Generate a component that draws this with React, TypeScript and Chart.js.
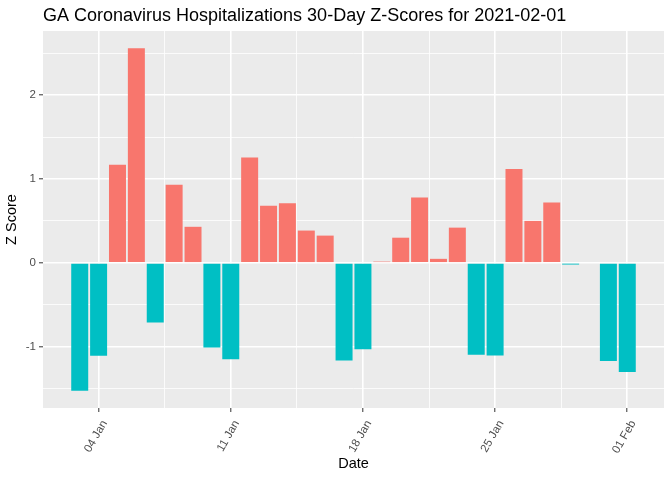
import React, { useEffect, useRef } from "react";
import { Chart, registerables } from "chart.js";

Chart.register(...registerables);

const dates: string[] = [
  "2021-01-03", "2021-01-04", "2021-01-05", "2021-01-06", "2021-01-07",
  "2021-01-08", "2021-01-09", "2021-01-10", "2021-01-11", "2021-01-12",
  "2021-01-13", "2021-01-14", "2021-01-15", "2021-01-16", "2021-01-17",
  "2021-01-18", "2021-01-19", "2021-01-20", "2021-01-21", "2021-01-22",
  "2021-01-23", "2021-01-24", "2021-01-25", "2021-01-26", "2021-01-27",
  "2021-01-28", "2021-01-29", "2021-01-30", "2021-01-31", "2021-02-01",
];

const zScores: (number | null)[] = [
  -1.526, -1.107, 1.17, 2.56, -0.71,
  0.93, 0.43, -1.01, -1.15, 1.257,
  0.68, 0.71, 0.385, 0.325, -1.165,
  -1.03, 0.015, 0.3, 0.78, 0.048,
  0.42, -1.095, -1.105, 1.12, 0.5,
  0.72, -0.02, null, -1.17, -1.3,
];

const xTickDates: string[] = ["2021-01-04", "2021-01-11", "2021-01-18", "2021-01-25", "2021-02-01"];
const xTickLabels: string[] = ["04 Jan", "11 Jan", "18 Jan", "25 Jan", "01 Feb"];
const yMajorTicks: number[] = [-1, 0, 1, 2];
const yMinorTicks: number[] = [-1.5, -0.5, 0.5, 1.5, 2.5];

const TITLE = "GA Coronavirus Hospitalizations 30-Day Z-Scores for 2021-02-01";
const X_TITLE = "Date";
const Y_TITLE = "Z Score";

const POS_COLOR = "#F8766D";
const NEG_COLOR = "#00BFC4";
const FONT = "'Liberation Sans', Arial, sans-serif";

export default function App() {
  const ref = useRef<HTMLCanvasElement | null>(null);

  useEffect(() => {
    if (!ref.current) return;

    const xMajor = xTickDates.map((d) => dates.indexOf(d));
    const xMinor = xMajor.slice(0, -1).map((v) => v + 3.5);
    const xMajorSet = new Set(xMajor);
    const yMajorSet = new Set(yMajorTicks);

    const barWidth = 0.9;
    const nums = zScores.filter((v) => v !== null) as number[];
    const dMin = Math.min(...nums);
    const dMax = Math.max(...nums);
    const yPad = (dMax - dMin) * 0.05;
    const xLo = -barWidth / 2;
    const xHi = dates.length - 1 + barWidth / 2;
    const xPad = (xHi - xLo) * 0.05;

    const points = zScores.map((v, i) => ({ x: i, y: v }));

    const bgPlugin = {
      id: "panelBg",
      beforeDraw(chart: any) {
        const { ctx, chartArea } = chart;
        ctx.save();
        ctx.fillStyle = "#EBEBEB";
        ctx.fillRect(chartArea.left, chartArea.top, chartArea.right - chartArea.left, chartArea.bottom - chartArea.top);
        ctx.restore();
      },
      afterDraw(chart: any) {
        const { ctx, chartArea } = chart;
        ctx.save();
        ctx.fillStyle = "#000000";
        ctx.textBaseline = "alphabetic";
        ctx.font = `18px ${FONT}`;
        ctx.textAlign = "left";
        ctx.fillText(TITLE, chartArea.left, 21);
        ctx.font = `14.5px ${FONT}`;
        ctx.textAlign = "center";
        ctx.textBaseline = "middle";
        ctx.fillText(X_TITLE, (chartArea.left + chartArea.right) / 2, 464);
        ctx.translate(12, (chartArea.top + chartArea.bottom) / 2);
        ctx.rotate(-Math.PI / 2);
        ctx.fillText(Y_TITLE, 0, 0);
        ctx.restore();
      },
    };

    const chart = new Chart(ref.current, {
      type: "bar",
      data: {
        datasets: [
          {
            data: points as any,
            backgroundColor: zScores.map((v) => ((v ?? 0) >= 0 ? POS_COLOR : NEG_COLOR)),
            borderWidth: 0,
            barPercentage: barWidth,
            categoryPercentage: 1,
          },
        ],
      },
      options: {
        animation: false,
        responsive: true,
        maintainAspectRatio: false,
        layout: { padding: { top: 31, right: 8, bottom: 0, left: 0 } },
        plugins: {
          legend: { display: false },
          tooltip: { enabled: false },
          title: { display: false },
        },
        scales: {
          x: {
            type: "linear",
            offset: false,
            min: xLo - xPad,
            max: xHi + xPad,
            afterBuildTicks(scale: any) {
              scale.ticks = [...xMajor, ...xMinor].sort((a, b) => a - b).map((v) => ({ value: v }));
            },
            afterFit(scale: any) {
              scale.height = 72;
            },
            border: { display: false },
            grid: {
              offset: false,
              color: "#FFFFFF",
              lineWidth: (ctx: any) => (ctx.tick && xMajorSet.has(ctx.tick.value) ? 1.6 : 0.8),
              drawTicks: true,
              tickLength: 4,
              tickWidth: 1,
              tickColor: (ctx: any) => (ctx.tick && xMajorSet.has(ctx.tick.value) ? "#333333" : "rgba(0,0,0,0)"),
            },
            ticks: {
              autoSkip: false,
              minRotation: 60,
              maxRotation: 60,
              padding: 6,
              labelOffset: 6,
              color: "#4D4D4D",
              font: { family: FONT, size: 11.5 },
              callback: (value: any) => {
                const i = xMajor.indexOf(Number(value));
                return i >= 0 ? xTickLabels[i] : "";
              },
            },
          },
          y: {
            min: dMin - yPad,
            max: dMax + yPad,
            afterBuildTicks(scale: any) {
              scale.ticks = [...yMajorTicks, ...yMinorTicks].sort((a, b) => a - b).map((v) => ({ value: v }));
            },
            afterFit(scale: any) {
              scale.width = 43;
            },
            border: { display: false },
            grid: {
              color: "#FFFFFF",
              lineWidth: (ctx: any) => (ctx.tick && yMajorSet.has(ctx.tick.value) ? 1.6 : 0.8),
              drawTicks: true,
              tickLength: 4,
              tickWidth: 1,
              tickColor: (ctx: any) => (ctx.tick && yMajorSet.has(ctx.tick.value) ? "#333333" : "rgba(0,0,0,0)"),
            },
            ticks: {
              autoSkip: false,
              padding: 3,
              color: "#4D4D4D",
              font: { family: FONT, size: 11.5 },
              callback: (value: any) => (yMajorSet.has(Number(value)) ? String(value) : ""),
            },
          },
        },
      },
      plugins: [bgPlugin],
    });

    return () => chart.destroy();
  }, []);

  return (
    <div style={{ position: "fixed", left: 0, top: 0, width: 672, height: 480, background: "#FFFFFF" }}>
      <canvas ref={ref} />
    </div>
  );
}
